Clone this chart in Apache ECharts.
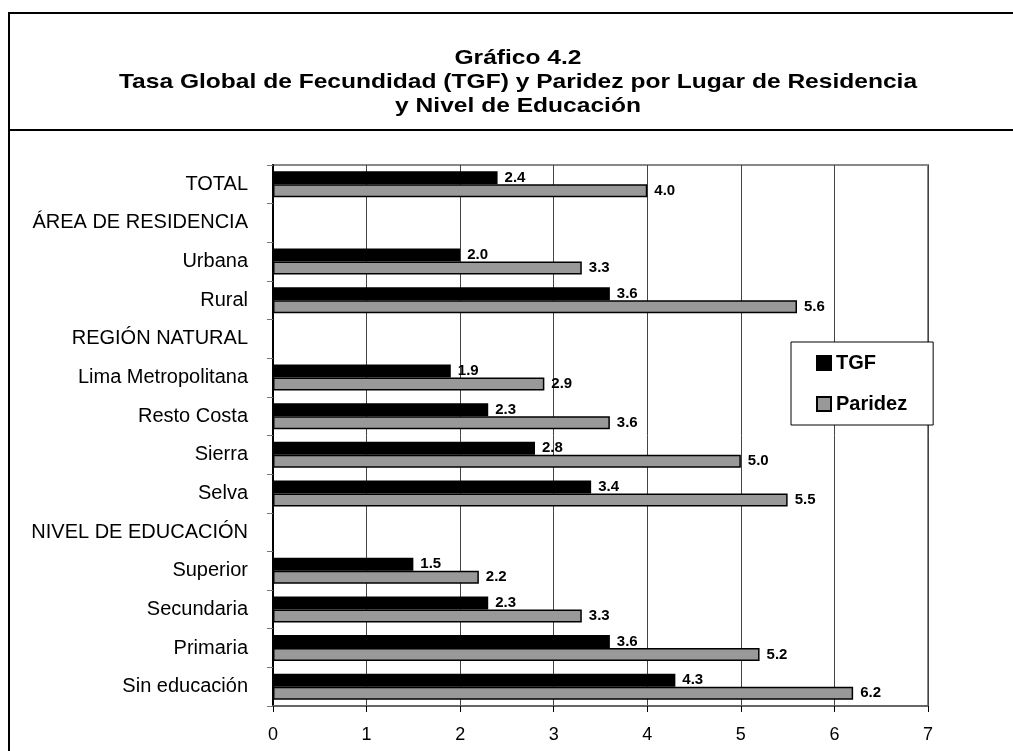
<!DOCTYPE html>
<html>
<head>
<meta charset="utf-8">
<script src="https://cdn.jsdelivr.net/npm/echarts@6/dist/echarts.min.js"></script>
<style>
  html, body { margin: 0; padding: 0; background: #fff; }
  #chart { width: 1013px; height: 751px; }
</style>
</head>
<body>
<div id="chart"></div>
<script>
// categorías (de arriba hacia abajo)
const categories = [
  'TOTAL', 'ÁREA DE RESIDENCIA', 'Urbana', 'Rural', 'REGIÓN NATURAL',
  'Lima Metropolitana', 'Resto Costa', 'Sierra', 'Selva', 'NIVEL DE EDUCACIÓN',
  'Superior', 'Secundaria', 'Primaria', 'Sin educación'
]
// valores (null = fila de encabezado)
const tgfValues = [2.4, null, 2.0, 3.6, null, 1.9, 2.3, 2.8, 3.4, null, 1.5, 2.3, 3.6, 4.3]
const paridezValues = [4.0, null, 3.3, 5.6, null, 2.9, 3.6, 5.0, 5.5, null, 2.2, 3.3, 5.2, 6.2]
const seriesNames = ['TGF', 'Paridez']
const titleLines = [
  'Gráfico 4.2',
  'Tasa Global de Fecundidad (TGF) y Paridez por Lugar de Residencia',
  'y Nivel de Educación'
]

const chart = echarts.init(document.getElementById('chart'))
const font = '"Liberation Sans", Arial, sans-serif'

const labelOpt = {
  show: true,
  position: 'right',
  distance: 7,
  fontFamily: font,
  fontSize: 15,
  fontWeight: 'bold',
  color: '#000',
  formatter: p => (p.value == null ? '' : Number(p.value).toFixed(1))
}

const option = {
  animation: false,
  backgroundColor: '#fff',
  textStyle: { fontFamily: font },
  graphic: [
    {
      type: 'rect',
      shape: { x: 9, y: 13, width: 1012, height: 748 },
      style: { fill: 'none', stroke: '#000', lineWidth: 2 },
      silent: true
    },
    {
      type: 'line',
      shape: { x1: 9, y1: 130, x2: 1013, y2: 130 },
      style: { stroke: '#000', lineWidth: 2 },
      silent: true
    },
    {
      // el título del original es algo más ancho que Arial, se estira un poco
      type: 'text',
      x: 518,
      y: 46,
      scaleX: 1.17,
      style: {
        text: titleLines.join('\n'),
        font: 'bold 21px ' + font,
        fill: '#000',
        align: 'center',
        verticalAlign: 'top',
        lineHeight: 24
      },
      silent: true
    }
  ],
  legend: {
    data: seriesNames,
    orient: 'vertical',
    left: 791,
    top: 342,
    padding: [11, 26, 11, 25],
    itemGap: 21,
    itemWidth: 14,
    itemHeight: 14,
    icon: 'rect',
    backgroundColor: '#fff',
    borderColor: '#000',
    borderWidth: 1,
    textStyle: { fontFamily: font, fontSize: 20, fontWeight: 'bold', color: '#000' }
  },
  grid: {
    left: 273,
    right: 85,
    top: 165,
    bottom: 45,
    show: true,
    borderColor: '#888',
    borderWidth: 2,
    backgroundColor: '#fff'
  },
  xAxis: {
    type: 'value',
    min: 0,
    max: 7,
    interval: 1,
    axisLine: { show: true, lineStyle: { color: '#666', width: 2 } },
    axisTick: { show: true, length: 6, lineStyle: { color: '#000' } },
    axisLabel: { fontFamily: font, fontSize: 18, color: '#000', margin: 20 },
    splitLine: { show: true, lineStyle: { color: '#444', width: 1 } }
  },
  yAxis: {
    type: 'category',
    data: categories,
    inverse: true,
    axisLine: { show: true, lineStyle: { color: '#000', width: 2 } },
    axisTick: { show: true, length: 6, lineStyle: { color: '#777' } },
    axisLabel: { fontFamily: font, fontSize: 20, color: '#000', margin: 25 }
  },
  series: [
    {
      name: seriesNames[0],
      type: 'bar',
      data: tgfValues,
      barWidth: 13,
      barGap: '0%',
      itemStyle: { color: '#000', borderColor: '#000', borderWidth: 1.5 },
      label: labelOpt
    },
    {
      name: seriesNames[1],
      type: 'bar',
      data: paridezValues,
      barWidth: 13,
      barGap: '0%',
      itemStyle: { color: '#999', borderColor: '#000', borderWidth: 1.5 },
      label: labelOpt
    }
  ]
}

chart.setOption(option)
</script>
</body>
</html>
